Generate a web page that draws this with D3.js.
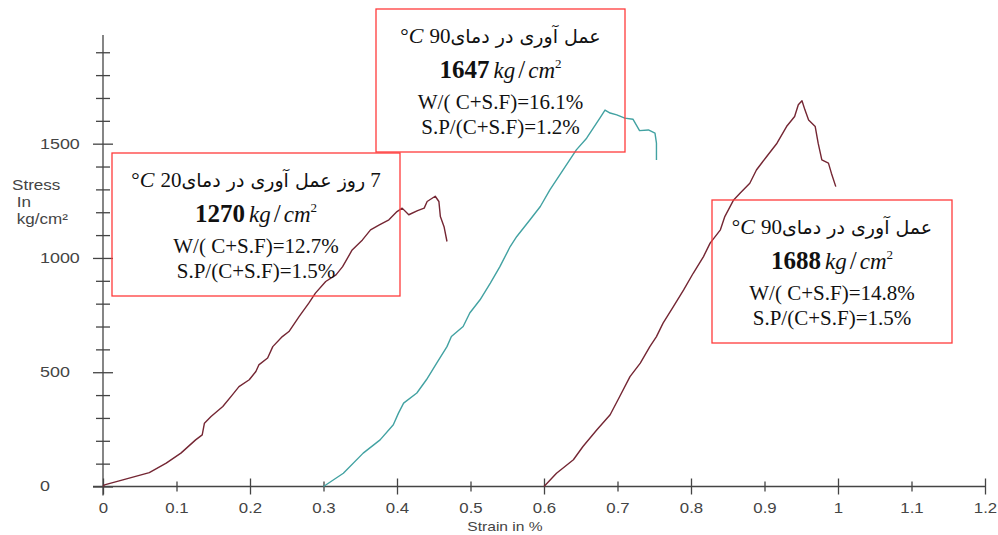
<!DOCTYPE html>
<html>
<head>
<meta charset="utf-8">
<script src="https://cdn.jsdelivr.net/npm/d3@7"></script>
<style>
  body { margin: 0; background: #fff; }
  svg { display: block; }
</style>
</head>
<body>
<svg id="chart"></svg>
<script>
// stress-strain curves (strain in %, stress in kg/cm2)
const strain1 = [0, 0.002, 0.027, 0.063, 0.086, 0.106, 0.126, 0.135, 0.138, 0.147, 0.163, 0.176, 0.185, 0.199, 0.208, 0.212, 0.224, 0.231, 0.244, 0.253, 0.267, 0.280, 0.289, 0.303, 0.317, 0.326, 0.339, 0.353, 0.364, 0.376, 0.389, 0.400, 0.407, 0.416, 0.428, 0.437, 0.441, 0.452, 0.457, 0.459, 0.464, 0.468];
const stress1 = [0, 7, 29, 61, 102, 146, 204, 226, 277, 306, 350, 401, 437, 467, 503, 532, 562, 612, 656, 678, 744, 802, 846, 897, 926, 962, 1035, 1079, 1123, 1145, 1167, 1203, 1218, 1189, 1207, 1218, 1247, 1270, 1247, 1181, 1137, 1072];

const strain2 = [0.300, 0.327, 0.354, 0.377, 0.395, 0.402, 0.409, 0.427, 0.440, 0.454, 0.468, 0.474, 0.490, 0.499, 0.513, 0.527, 0.540, 0.554, 0.563, 0.581, 0.595, 0.608, 0.626, 0.644, 0.658, 0.667, 0.676, 0.683, 0.690, 0.699, 0.710, 0.721, 0.730, 0.742, 0.751, 0.753, 0.753];
const stress2 = [0, 58, 146, 204, 270, 321, 365, 409, 467, 540, 612, 656, 700, 759, 817, 890, 962, 1050, 1094, 1167, 1225, 1298, 1385, 1473, 1524, 1568, 1612, 1647, 1634, 1626, 1612, 1607, 1557, 1560, 1546, 1502, 1429];

const strain3 = [0.600, 0.617, 0.640, 0.653, 0.672, 0.690, 0.703, 0.717, 0.731, 0.744, 0.753, 0.762, 0.776, 0.790, 0.803, 0.817, 0.826, 0.840, 0.846, 0.858, 0.867, 0.880, 0.889, 0.903, 0.917, 0.930, 0.941, 0.946, 0.951, 0.955, 0.960, 0.969, 0.973, 0.978, 0.987, 0.991, 0.997];
const stress3 = [0, 58, 117, 175, 248, 314, 394, 481, 540, 612, 656, 715, 787, 860, 933, 1006, 1065, 1123, 1181, 1254, 1284, 1327, 1385, 1444, 1502, 1575, 1619, 1670, 1688, 1648, 1604, 1575, 1502, 1429, 1415, 1371, 1312];

const xTicks = [0, 0.1, 0.2, 0.3, 0.4, 0.5, 0.6, 0.7, 0.8, 0.9, 1, 1.1, 1.2];
const yTicks = [0, 100, 200, 300, 400, 500, 600, 700, 800, 900, 1000, 1100, 1200, 1300, 1400, 1500, 1600, 1700, 1800, 1900];
const yLabelTicks = [0, 500, 1000, 1500];

// annotation boxes
const curingDays = ["7", "", ""];
const curingTemp = ["20", "90", "90"];
const strengths = ["1270", "1647", "1688"];
const wRatio = ["W/( C+S.F)=12.7%", "W/( C+S.F)=16.1%", "W/( C+S.F)=14.8%"];
const spRatio = ["S.P/(C+S.F)=1.5%", "S.P/(C+S.F)=1.2%", "S.P/(C+S.F)=1.5%"];

const curveColors = ["#742633", "#42a2a2", "#742633"];
const boxLayout = [
    { x: 112, y: 153, w: 288, h: 143 },
    { x: 376, y: 9, w: 249, h: 143 },
    { x: 712, y: 200, w: 240, h: 143 }
];

const W = 998, H = 535;
const svg = d3.select("#chart").attr("width", W).attr("height", H);

const x = d3.scaleLinear().domain([0, 1.2]).range([103, 985]);
const y = d3.scaleLinear().domain([0, 2000]).range([486.5, 29.4]);

const axisColor = "#444";
const sans = "'Liberation Sans', Arial, sans-serif";
const serif = "'Liberation Serif', 'Times New Roman', serif";

// y axis
const yAxisGroup = svg.append("g")
    .attr("transform", `translate(${x(0)},0)`)
    .call(d3.axisLeft(y).tickValues(yTicks).tickFormat(d => yLabelTicks.includes(d) ? d : ""));
yAxisGroup.select(".domain").remove();
yAxisGroup.append("line")
    .attr("y1", y(0) + 9).attr("y2", y(1975))
    .attr("stroke", axisColor).attr("stroke-width", 1.3);
yAxisGroup.selectAll(".tick line")
    .attr("stroke", axisColor).attr("stroke-width", 1.3)
    .attr("x1", d => yLabelTicks.includes(d) ? -10 : -7)
    .attr("x2", d => yLabelTicks.includes(d) ? 10 : 7);
yAxisGroup.selectAll(".tick text")
    .attr("x", 0)
    .attr("text-anchor", "start")
    .attr("transform", `translate(${40 - x(0)},0) scale(1.28,1)`)
    .style("font-family", sans).style("font-size", "14px").attr("fill", "#444");

// x axis
const xAxisGroup = svg.append("g")
    .attr("transform", `translate(0,${y(0)})`)
    .call(d3.axisBottom(x).tickValues(xTicks).tickFormat(d => String(+d.toFixed(1))));
xAxisGroup.select(".domain").remove();
xAxisGroup.append("line")
    .attr("x1", x(0) - 10).attr("x2", x(1.2))
    .attr("stroke", axisColor).attr("stroke-width", 1.3);
xAxisGroup.selectAll(".tick line")
    .attr("stroke", axisColor).attr("stroke-width", 1.3)
    .attr("y1", (d, i) => i % 2 === 0 ? -8 : -5)
    .attr("y2", (d, i) => i % 2 === 0 ? 8 : 5);
xAxisGroup.selectAll(".tick text")
    .attr("y", 17)
    .attr("transform", "scale(1.2,1)")
    .style("font-family", sans).style("font-size", "14px").attr("fill", "#444");

// axis titles
svg.append("text")
    .attr("transform", "translate(505,531) scale(1.2,1)")
    .attr("text-anchor", "middle")
    .style("font-family", sans).style("font-size", "13px").attr("fill", "#444")
    .text("Strain in %");

const yTitle = ["Stress", " In", " kg/cm²"];
svg.append("g").selectAll("text")
    .data(yTitle)
    .join("text")
    .attr("transform", (d, i) => `translate(12,${190 + i * 17}) scale(1.22,1)`)
    .style("font-family", sans).style("font-size", "14px").attr("fill", "#444")
    .style("white-space", "pre")
    .text(d => d);

// curves
const line = d3.line()
    .x(d => x(d[0]))
    .y(d => y(d[1]));

const curves = [
    d3.zip(strain1, stress1),
    d3.zip(strain2, stress2),
    d3.zip(strain3, stress3)
];

svg.append("g").selectAll("path")
    .data(curves)
    .join("path")
    .attr("fill", "none")
    .attr("stroke", (d, i) => curveColors[i])
    .attr("stroke-width", 1.4)
    .attr("stroke-linejoin", "round")
    .attr("d", line);

// annotation boxes
function placePieces(g, cx, baseline, pieces) {
    const nodes = pieces.map(p => {
        const t = g.append("text")
            .attr("y", baseline)
            .style("font-family", p.font || serif)
            .style("font-size", (p.size || 21) + "px")
            .style("font-style", p.italic ? "italic" : "normal")
            .style("white-space", "pre")
            .attr("fill", "#111")
            .text(p.text);
        return { t, w: t.node().getComputedTextLength(), gap: p.gap || 0 };
    });
    const total = d3.sum(nodes, n => n.w + n.gap);
    let cursor = cx - total / 2;
    nodes.forEach(n => {
        cursor += n.gap;
        n.t.attr("x", cursor);
        cursor += n.w;
    });
}

boxLayout.forEach((b, i) => {
    const g = svg.append("g");
    g.append("rect")
        .attr("x", b.x).attr("y", b.y)
        .attr("width", b.w).attr("height", b.h)
        .attr("fill", "none")
        .attr("stroke", "#ff3b3b")
        .attr("stroke-width", 1.3);

    const cx = b.x + b.w / 2;
    const persian = (curingDays[i] ? "روز " : "") + "عمل آوری در دمای";
    const pieces = [
        { text: "°", size: 21 },
        { text: "C", size: 22, italic: true },
        { text: curingTemp[i], size: 21, gap: 6 },
        { text: persian, size: 19, font: "'DejaVu Sans', sans-serif" }
    ];
    if (curingDays[i]) pieces.push({ text: curingDays[i], size: 21, gap: 5 });
    placePieces(g, cx, b.y + 34, pieces);

    // strength line: bold value with kg/cm2
    const t2 = g.append("text")
        .attr("x", cx).attr("y", b.y + 69)
        .attr("text-anchor", "middle")
        .style("font-family", serif)
        .attr("fill", "#111");
    t2.append("tspan").style("font-size", "25px").style("font-weight", "bold").text(strengths[i]);
    t2.append("tspan").attr("dx", 4).style("font-size", "23px").style("font-style", "italic").text("kg");
    t2.append("tspan").attr("dx", 3).style("font-size", "25px").text("/");
    t2.append("tspan").attr("dx", 3).style("font-size", "23px").style("font-style", "italic").text("cm");
    t2.append("tspan").attr("dy", -10).style("font-size", "13px").text("2");

    g.append("text")
        .attr("x", cx).attr("y", b.y + 100)
        .attr("text-anchor", "middle")
        .style("font-family", serif).style("font-size", "21px")
        .attr("fill", "#111")
        .text(wRatio[i]);

    g.append("text")
        .attr("x", cx).attr("y", b.y + 125)
        .attr("text-anchor", "middle")
        .style("font-family", serif).style("font-size", "21px")
        .attr("fill", "#111")
        .text(spRatio[i]);
});
</script>
</body>
</html>
